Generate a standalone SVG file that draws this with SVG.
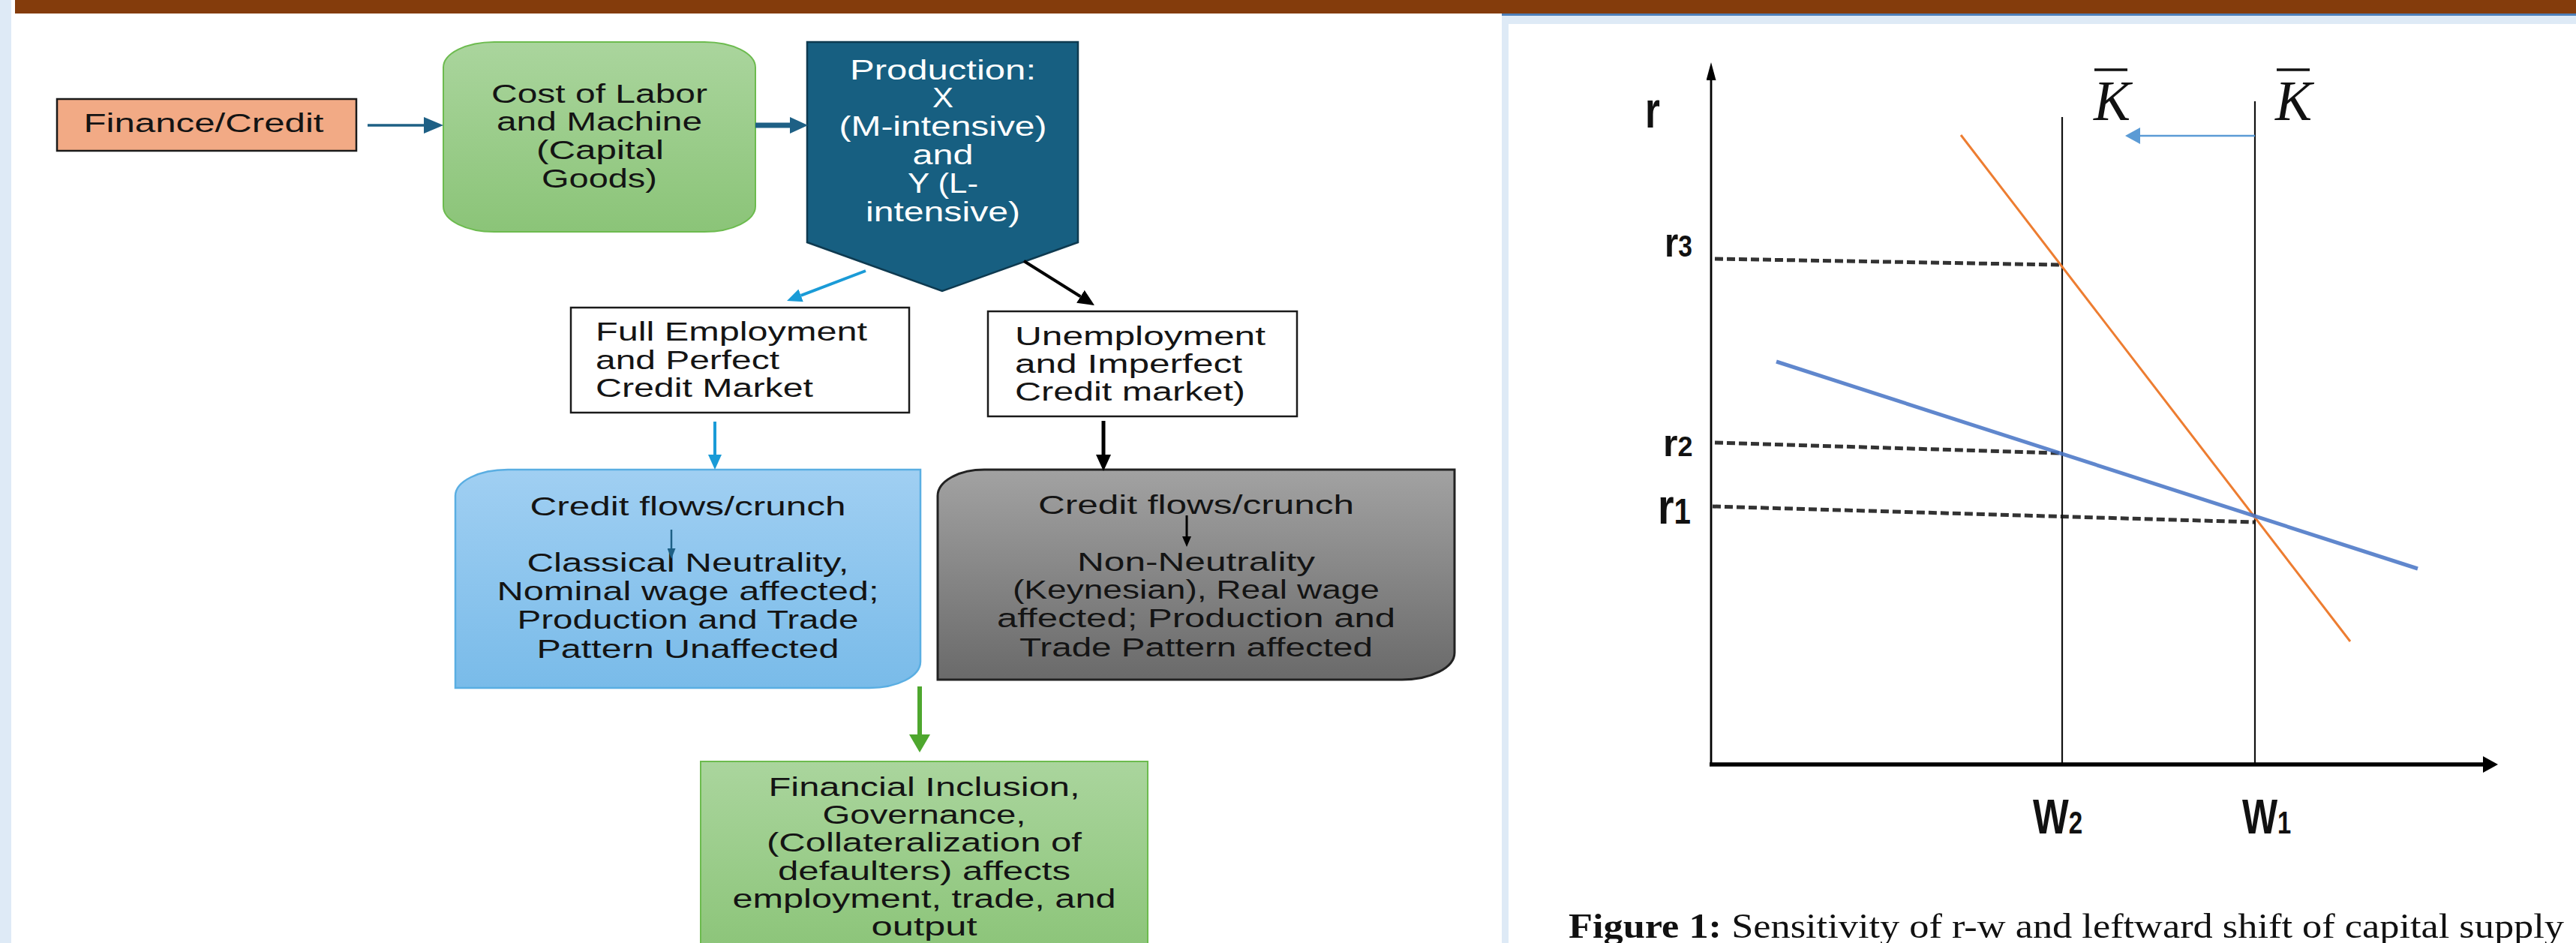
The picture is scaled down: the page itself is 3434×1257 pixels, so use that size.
<svg xmlns="http://www.w3.org/2000/svg" width="3434" height="1257" viewBox="0 0 3434 1257">
<style>
.t{font-family:"Liberation Sans",Arial,sans-serif;font-size:35.5px;fill:#141414}
.tw{font-family:"Liberation Sans",Arial,sans-serif;font-size:36px;fill:#ffffff}
.c{text-anchor:middle}
.lbl{font-family:"Liberation Sans",Arial,sans-serif;font-weight:bold;fill:#111}
.kb{font-family:"Liberation Serif","Times New Roman",serif;font-style:italic;font-size:76px;fill:#111}
.cap{font-family:"Liberation Serif","Times New Roman",serif;font-size:47px;fill:#111}
.dash{stroke:#333333;stroke-width:5;stroke-dasharray:11 5;fill:none}
.vl{stroke:#111;stroke-width:2.2}
</style>
<defs>
<linearGradient id="gGreen" x1="0" y1="0" x2="0" y2="1"><stop offset="0" stop-color="#AAD59D"/><stop offset="1" stop-color="#8BC478"/></linearGradient>
<linearGradient id="gBlue" x1="0" y1="0" x2="0" y2="1"><stop offset="0" stop-color="#A0CFF2"/><stop offset="1" stop-color="#79BBE9"/></linearGradient>
<linearGradient id="gGray" x1="0" y1="0" x2="0" y2="1"><stop offset="0" stop-color="#A2A2A2"/><stop offset="1" stop-color="#6A6A6A"/></linearGradient>
<marker id="mTeal" markerUnits="userSpaceOnUse" markerWidth="26" markerHeight="22" refX="0" refY="11" orient="auto"><path d="M0,0 L26,11 L0,22 Z" fill="#1E6085"/></marker>
<marker id="mTeal2" markerUnits="userSpaceOnUse" markerWidth="24" markerHeight="22" refX="0" refY="11" orient="auto"><path d="M0,0 L24,11 L0,22 Z" fill="#1E6085"/></marker>
<marker id="mBlue" markerUnits="userSpaceOnUse" markerWidth="20" markerHeight="18" refX="0" refY="9" orient="auto"><path d="M0,0 L20,9 L0,18 Z" fill="#1A9BD7"/></marker>
<marker id="mBlack" markerUnits="userSpaceOnUse" markerWidth="22" markerHeight="20" refX="0" refY="10" orient="auto"><path d="M0,0 L22,10 L0,20 Z" fill="#000"/></marker>
<marker id="mGreen" markerUnits="userSpaceOnUse" markerWidth="24" markerHeight="28" refX="0" refY="14" orient="auto"><path d="M0,0 L24,14 L0,28 Z" fill="#4EA72E"/></marker>
<marker id="mTealS" markerUnits="userSpaceOnUse" markerWidth="14" markerHeight="11" refX="0" refY="5.5" orient="auto"><path d="M0,0 L14,5.5 L0,11 Z" fill="#1E6085"/></marker>
<marker id="mBlackS" markerUnits="userSpaceOnUse" markerWidth="14" markerHeight="12" refX="0" refY="6" orient="auto"><path d="M0,0 L14,6 L0,12 Z" fill="#000"/></marker>
<marker id="mAxY" markerUnits="userSpaceOnUse" markerWidth="24" markerHeight="13" refX="0" refY="6.5" orient="auto"><path d="M0,0 L24,6.5 L0,13 Z" fill="#000"/></marker>
<marker id="mAxX" markerUnits="userSpaceOnUse" markerWidth="20" markerHeight="22" refX="0" refY="11" orient="auto"><path d="M0,0 L20,11 L0,22 Z" fill="#000"/></marker>
<marker id="mShift" markerUnits="userSpaceOnUse" markerWidth="20" markerHeight="22" refX="0" refY="11" orient="auto"><path d="M0,0 L20,11 L0,22 Z" fill="#5B9BD5"/></marker>
</defs>

<g id="background">
<rect x="0" y="0" width="3434" height="1257" fill="#ffffff"/>
<rect x="0" y="0" width="15" height="1257" fill="#DEEAF6"/>
<rect x="20" y="0" width="3414" height="18" fill="#843C0C"/>
<rect x="2002" y="18" width="1432" height="3" fill="#4F7FB8"/>
<rect x="2002" y="21" width="1432" height="11" fill="#DEEAF6"/>
<rect x="2002" y="21" width="9" height="1236" fill="#DEEAF6"/>
</g>

<g id="finance">
<rect x="76" y="132" width="399" height="69" fill="#F2AA85" stroke="#1a1a1a" stroke-width="2.5"/>
<text class="t c" x="271.5" y="176" textLength="320" lengthAdjust="spacingAndGlyphs">Finance/Credit</text>
</g>

<g id="cost">
<rect x="591" y="56" width="416" height="253" rx="68" ry="34" fill="url(#gGreen)" stroke="#6CBB4E" stroke-width="2"/>
<text class="t c" x="799" y="137" textLength="288" lengthAdjust="spacingAndGlyphs">Cost of Labor</text>
<text class="t c" x="799" y="174" textLength="274" lengthAdjust="spacingAndGlyphs">and Machine</text>
<text class="t c" x="800" y="212" textLength="170" lengthAdjust="spacingAndGlyphs">(Capital</text>
<text class="t c" x="799" y="250" textLength="154" lengthAdjust="spacingAndGlyphs">Goods)</text>
</g>

<g id="production">
<path d="M1076,56 L1437,56 L1437,323 L1256,388 L1076,323 Z" fill="#175F81" stroke="#0E3A50" stroke-width="2.5"/>
<text class="tw c" x="1257" y="106" textLength="248" lengthAdjust="spacingAndGlyphs">Production:</text>
<text class="tw c" x="1257" y="143" textLength="28" lengthAdjust="spacingAndGlyphs">X</text>
<text class="tw c" x="1257" y="181" textLength="277" lengthAdjust="spacingAndGlyphs">(M-intensive)</text>
<text class="tw c" x="1257" y="219" textLength="81" lengthAdjust="spacingAndGlyphs">and</text>
<text class="tw c" x="1257" y="257" textLength="94" lengthAdjust="spacingAndGlyphs">Y (L-</text>
<text class="tw c" x="1257" y="295" textLength="206" lengthAdjust="spacingAndGlyphs">intensive)</text>
</g>

<g id="full-employment">
<rect x="761" y="410" width="451" height="140" fill="#ffffff" stroke="#1a1a1a" stroke-width="2.5"/>
<text class="t" x="794" y="454" textLength="362" lengthAdjust="spacingAndGlyphs">Full Employment</text>
<text class="t" x="794" y="492" textLength="245" lengthAdjust="spacingAndGlyphs">and Perfect</text>
<text class="t" x="794" y="529" textLength="290" lengthAdjust="spacingAndGlyphs">Credit Market</text>
</g>

<g id="unemployment">
<rect x="1317" y="415" width="412" height="140" fill="#ffffff" stroke="#1a1a1a" stroke-width="2.5"/>
<text class="t" x="1353" y="460" textLength="334" lengthAdjust="spacingAndGlyphs">Unemployment</text>
<text class="t" x="1353" y="497" textLength="303" lengthAdjust="spacingAndGlyphs">and Imperfect</text>
<text class="t" x="1353" y="534" textLength="307" lengthAdjust="spacingAndGlyphs">Credit market)</text>
</g>

<g id="classical">
<path d="M607,917 L607,661 A70,35 0 0 1 677,626 L1227,626 L1227,882 A68,35 0 0 1 1159,917 Z" fill="url(#gBlue)" stroke="#5AAEE2" stroke-width="2.5"/>
<text class="t c" x="917" y="687" textLength="421" lengthAdjust="spacingAndGlyphs">Credit flows/crunch</text>
<text class="t c" x="917" y="762" textLength="429" lengthAdjust="spacingAndGlyphs">Classical Neutrality,</text>
<text class="t c" x="917" y="800" textLength="509" lengthAdjust="spacingAndGlyphs">Nominal wage affected;</text>
<text class="t c" x="917" y="838" textLength="455" lengthAdjust="spacingAndGlyphs">Production and Trade</text>
<text class="t c" x="917" y="877" textLength="403" lengthAdjust="spacingAndGlyphs">Pattern Unaffected</text>
</g>

<g id="keynesian">
<path d="M1250,906 L1250,661 A62,35 0 0 1 1312,626 L1939,626 L1939,870 A70,36 0 0 1 1869,906 Z" fill="url(#gGray)" stroke="#222222" stroke-width="3"/>
<text class="t c" x="1594.5" y="685" textLength="421" lengthAdjust="spacingAndGlyphs">Credit flows/crunch</text>
<text class="t c" x="1594.5" y="761" textLength="317" lengthAdjust="spacingAndGlyphs">Non-Neutrality</text>
<text class="t c" x="1594.5" y="798" textLength="489" lengthAdjust="spacingAndGlyphs">(Keynesian), Real wage</text>
<text class="t c" x="1594.5" y="836" textLength="531" lengthAdjust="spacingAndGlyphs">affected; Production and</text>
<text class="t c" x="1594.5" y="875" textLength="471" lengthAdjust="spacingAndGlyphs">Trade Pattern affected</text>
</g>

<g id="inclusion">
<rect x="934" y="1015" width="596" height="260" fill="url(#gGreen)" stroke="#6CBB4E" stroke-width="2"/>
<text class="t c" x="1232" y="1061" textLength="415" lengthAdjust="spacingAndGlyphs">Financial Inclusion,</text>
<text class="t c" x="1232" y="1098" textLength="271" lengthAdjust="spacingAndGlyphs">Governance,</text>
<text class="t c" x="1232" y="1135" textLength="420" lengthAdjust="spacingAndGlyphs">(Collateralization of</text>
<text class="t c" x="1232" y="1173" textLength="390" lengthAdjust="spacingAndGlyphs">defaulters) affects</text>
<text class="t c" x="1232" y="1210" textLength="511" lengthAdjust="spacingAndGlyphs">employment, trade, and</text>
<text class="t c" x="1232" y="1247" textLength="141" lengthAdjust="spacingAndGlyphs">output</text>
</g>

<g id="connectors" fill="none">
<line x1="490" y1="167" x2="565" y2="167" stroke="#1E6085" stroke-width="3.5" marker-end="url(#mTeal)"/>
<line x1="1007" y1="167" x2="1053" y2="167" stroke="#1E6085" stroke-width="7" marker-end="url(#mTeal2)"/>
<line x1="1154" y1="361" x2="1067.7" y2="393.9" stroke="#1A9BD7" stroke-width="4" marker-end="url(#mBlue)"/>
<line x1="1365" y1="348" x2="1440.4" y2="395.3" stroke="#000" stroke-width="4" marker-end="url(#mBlack)"/>
<line x1="953" y1="562" x2="953" y2="606" stroke="#1A9BD7" stroke-width="4" marker-end="url(#mBlue)"/>
<line x1="1471" y1="561" x2="1471" y2="606" stroke="#000" stroke-width="5" marker-end="url(#mBlack)"/>
<line x1="1226" y1="915" x2="1226" y2="979" stroke="#4EA72E" stroke-width="6" marker-end="url(#mGreen)"/>
<line x1="895" y1="706" x2="895" y2="731" stroke="#1E6085" stroke-width="2.5" marker-end="url(#mTealS)"/>
<line x1="1582" y1="687" x2="1582" y2="715" stroke="#000" stroke-width="3" marker-end="url(#mBlackS)"/>
</g>

<g id="chart">
<line x1="2286" y1="345" x2="2745" y2="353" class="dash"/>
<line x1="2286" y1="590" x2="2745" y2="604" class="dash"/>
<line x1="2283" y1="675" x2="3005" y2="696" class="dash"/>
<line x1="2749" y1="156" x2="2749" y2="1019" class="vl"/>
<line x1="3006" y1="135" x2="3006" y2="1019" class="vl"/>
<line x1="2614" y1="180" x2="3133" y2="855" stroke="#ED7D31" stroke-width="3"/>
<line x1="2368" y1="482" x2="3223" y2="758" stroke="#4472C4" stroke-width="5" stroke-opacity="0.85"/>
<line x1="2281" y1="1021" x2="2281" y2="107" stroke="#000" stroke-width="2.8" marker-end="url(#mAxY)"/>
<line x1="2279" y1="1019" x2="3310" y2="1019" stroke="#000" stroke-width="5.5" marker-end="url(#mAxX)"/>
<line x1="3006" y1="181" x2="2853" y2="181" stroke="#5B9BD5" stroke-width="2.5" marker-end="url(#mShift)"/>
<line x1="2792" y1="93" x2="2836" y2="93" stroke="#111" stroke-width="3.5"/>
<line x1="3035" y1="93" x2="3079" y2="93" stroke="#111" stroke-width="3.5"/>
<text class="kb" x="2791" y="160" textLength="49" lengthAdjust="spacingAndGlyphs">K</text>
<text class="kb" x="3033" y="160" textLength="49" lengthAdjust="spacingAndGlyphs">K</text>
<text class="lbl" transform="translate(2193,170) scale(0.75,1)" font-size="68">r</text>
<text class="lbl" transform="translate(2219,342) scale(0.84,1)" font-size="56">r<tspan font-size="40">3</tspan></text>
<text class="lbl" transform="translate(2217,608)" font-size="50">r<tspan font-size="36">2</tspan></text>
<text class="lbl" transform="translate(2210,698) scale(0.84,1)" font-size="66">r<tspan font-size="48">1</tspan></text>
<text class="lbl" transform="translate(2710,1111) scale(0.79,1)" font-size="64">W<tspan font-size="42">2</tspan></text>
<text class="lbl" transform="translate(2989,1111) scale(0.78,1)" font-size="64">W<tspan font-size="42">1</tspan></text>
<text class="cap" x="2091" y="1250" textLength="1327" lengthAdjust="spacingAndGlyphs"><tspan font-weight="bold">Figure 1:</tspan> Sensitivity of r-w and leftward shift of capital supply</text>
</g>
</svg>
